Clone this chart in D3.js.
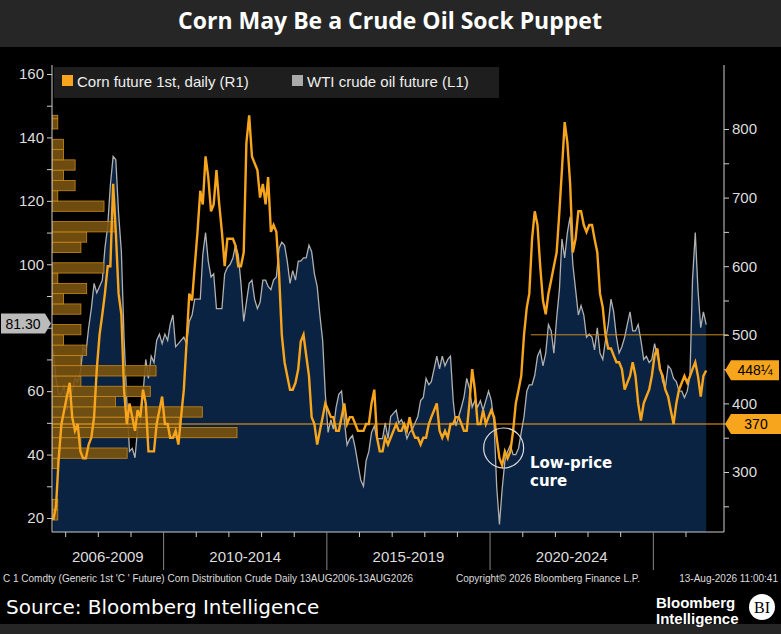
<!DOCTYPE html><html><head><meta charset="utf-8">
<script src="https://cdn.jsdelivr.net/npm/d3@7"></script>
<style>body{margin:0;background:#000}svg{display:block;font-family:"Liberation Sans",Arial,sans-serif}</style></head><body>
<svg id="c" width="781" height="634"></svg>
<script>
const startYear = 2006, startMonth = 7; // Aug 2006, monthly data
const wti = [73,64,59,59,62,
54,59,60,64,63,66,74,72,80,86,94,91,
93,95,105,112,125,134,133,116,104,77,57,41,
42,39,48,50,59,70,64,71,69,76,78,75,
78,76,81,84,74,75,76,77,75,82,84,89,
89,89,103,110,101,96,97,86,86,86,97,99,
100,102,106,103,94,82,88,94,95,89,86,88,
95,95,93,92,95,96,105,107,106,101,94,98,
95,101,101,102,102,106,104,97,93,84,76,59,
47,51,48,55,59,60,51,43,45,46,42,37,
32,30,38,41,47,49,45,45,45,50,45,52,
53,54,50,51,49,45,47,48,50,52,57,58,
64,62,63,67,71,67,71,68,70,71,57,49,
52,55,58,64,61,55,57,55,57,54,57,60,
57,50,30,18,29,38,41,43,40,40,42,47,
52,60,62,62,65,71,73,68,72,81,79,72,
83,92,108,102,110,115,100,92,84,87,84,77,
78,77,73,80,72,70,76,81,89,85,77,72,
74,77,81,85,79,79,81,76,70,71,69,70,
75,71,68,63,61,68,67,64,63,60,60,58,
60,65,95,110,92,80,85,81];
const corn = [230,250,320,370,390,
410,430,380,360,370,330,320,320,340,350,380,450,
500,530,560,600,600,720,650,560,530,420,370,400,
380,360,390,380,420,400,330,330,330,370,390,410,
370,370,350,350,360,340,380,420,490,560,550,600,
650,710,690,760,730,680,690,740,690,650,600,640,
640,640,630,600,600,620,780,820,760,750,740,700,
720,690,730,650,660,650,590,500,460,440,420,420,
430,450,490,500,470,440,380,370,340,360,380,400,
390,380,380,360,360,380,400,370,380,380,370,360,
360,360,370,370,400,420,350,330,330,350,340,350,
360,370,360,360,370,360,380,360,350,350,340,350,
350,370,380,390,400,360,350,360,350,370,370,380,
380,370,360,360,400,450,420,370,370,390,370,380,
390,380,350,320,310,330,320,330,360,400,420,440,
500,540,560,640,680,660,600,550,530,560,580,600,
620,680,740,810,780,720,620,640,680,680,660,650,
660,660,640,620,560,540,500,480,480,470,460,460,
450,420,430,440,460,440,400,375,400,410,420,440,
470,480,450,440,420,410,390,370,400,420,430,440,
430,440,450,460,440,410,440,448];
const leftTicks = [20,40,60,100,120,140,160];
const rightTicks = [300,400,500,600,700,800];
const periods = [["2006-2009",2006.6,2010],["2010-2014",2010,2015],["2015-2019",2015,2020],["2020-2024",2020,2025]];
const dates = wti.map((d,i)=>new Date(startYear, startMonth+i, 15));

const svg = d3.select("#c");
const L=52, R=724, T=65, B=532, dataEnd=706;
svg.append("rect").attr("width",781).attr("height",47).attr("fill","#262626");
svg.append("text").attr("x",390).attr("y",23).attr("text-anchor","middle").attr("dominant-baseline","middle")
 .attr("fill","#fff").attr("font-size",23).attr("font-weight","bold").attr("font-family","'Open Sans',sans-serif").text("Corn May Be a Crude Oil Sock Puppet");
svg.append("rect").attr("y",624).attr("width",781).attr("height",10).attr("fill","#262626");

const x = d3.scaleTime().domain([new Date(2006,7,1),new Date(2026,7,13)]).range([L,dataEnd]);
const yL = d3.scaleLinear().domain([20,160]).range([518,74]);
const yR = d3.scaleLinear().domain([300,800]).range([472,129]);
const g = svg.append("g");
svg.append("clipPath").attr("id","pc").append("rect").attr("x",L).attr("y",T).attr("width",R-L).attr("height",B-T);
const pg = g.append("g").attr("clip-path","url(#pc)");
pg.append("path").datum(wti).attr("fill","#0b2342")
 .attr("d",d3.area().x((d,i)=>x(dates[i])).y0(B).y1(d=>yL(d)));
pg.append("path").datum(wti).attr("fill","none").attr("stroke","#b0b0b0").attr("stroke-width",1.3)
 .attr("d",d3.line().x((d,i)=>x(dates[i])).y(d=>yL(d)));
const bins = d3.bin().thresholds(d3.range(200,860,15))(corn);
const hw = d3.scaleLinear().domain([0,d3.max(bins,b=>b.length)]).range([0,185]);
pg.selectAll(".h").data(bins).join("rect").attr("x",L).attr("y",b=>yR(b.x1)).attr("height",b=>Math.max(0,yR(b.x0)-yR(b.x1)))
 .attr("width",b=>hw(b.length)).attr("fill","#7a5310").attr("fill-opacity",0.9).attr("stroke","#c98a1c").attr("stroke-width",0.8);
pg.append("path").datum(corn).attr("fill","none").attr("stroke","#f7a51c").attr("stroke-width",2.4)
 .attr("d",d3.line().x((d,i)=>x(dates[i])).y(d=>yR(d)));
g.append("line").attr("x1",L).attr("x2",R+4).attr("y1",yR(370)).attr("y2",yR(370)).attr("stroke","#f7a51c").attr("stroke-width",1.2);
g.append("line").attr("x1",x(new Date(2021,3,1))).attr("x2",R+4).attr("y1",yR(500)).attr("y2",yR(500)).attr("stroke","#c98a1c").attr("stroke-width",1);
g.append("circle").attr("cx",x(new Date(2020,5,1))).attr("cy",yR(335)).attr("r",20).attr("fill","none").attr("stroke","#ddd").attr("stroke-width",1.2);
g.append("text").attr("x",530).attr("y",468).attr("fill","#fff").attr("font-weight","bold").attr("font-size",15).attr("font-family","'DejaVu Sans',sans-serif").text("Low-price");
g.append("text").attr("x",530).attr("y",486).attr("fill","#fff").attr("font-weight","bold").attr("font-size",15).attr("font-family","'DejaVu Sans',sans-serif").text("cure");
const axc="#ccc";
const la = g.append("g").attr("transform",`translate(${L},0)`).call(d3.axisLeft(yL).tickValues(d3.range(20,161,10)).tickSize(5).tickFormat(d=>leftTicks.includes(d)?d:""));
la.select(".domain").attr("stroke",axc).attr("d",`M0,${T}V${B}`);
la.selectAll("line").attr("stroke",axc);
la.selectAll("text").attr("fill","#ddd").attr("font-size",15);
const ra = g.append("g").attr("transform",`translate(${R},0)`).call(d3.axisRight(yR).tickValues(d3.range(250,851,50)).tickSize(5).tickFormat(d=>rightTicks.includes(d)?d:""));
ra.select(".domain").attr("stroke",axc).attr("d",`M0,${T}V${B}`);
ra.selectAll("line").attr("stroke",axc);ra.selectAll("text").attr("fill","#ddd").attr("font-size",15);
ra.selectAll(".tick").filter(d=>d>800).remove();
g.append("line").attr("x1",L).attr("x2",R).attr("y1",B).attr("y2",B).attr("stroke",axc);
d3.range(2007,2027).forEach(yv=>{const xx=x(new Date(yv,0,1));
 const major=[2010,2015,2020,2025].includes(yv);
 g.append("line").attr("x1",xx).attr("x2",xx).attr("y1",B).attr("y2",B+(major?38:5)).attr("stroke",major?"#888":axc);});
periods.forEach(p=>{const xa=Math.max(L,x(new Date(p[1],0,1))), xb=x(new Date(p[2],0,1));
 g.append("text").attr("x",(xa+xb)/2).attr("y",562).attr("text-anchor","middle").attr("fill","#ddd").attr("font-size",15).text(p[0]);});
function flag(xp,y,txt,fill,tc,left,w){
 const path=left?`M${xp},${y} l-6,-10 h-${w} v20 h${w} z`:`M${xp},${y} l6,-10 h${w} v20 h-${w} z`;
 g.append("path").attr("d",path).attr("fill",fill);
 g.append("text").attr("x",left?xp-6-w/2:xp+6+w/2).attr("y",y+5).attr("text-anchor","middle").attr("fill",tc).attr("font-size",14).text(txt);}
flag(L-1,yL(81.3),"81.30","#bbb","#000",true,44);
flag(R+1,yR(448.25),"448¼","#f7a51c","#000",false,48);
flag(R+1,yR(370),"370","#f7a51c","#000",false,50);
const lg=g.append("g");
lg.append("rect").attr("x",54).attr("y",67).attr("width",445).attr("height",31).attr("fill","#1e1e1e");
lg.append("rect").attr("x",62).attr("y",75).attr("width",11).attr("height",11).attr("fill","#f7a51c");
lg.append("text").attr("x",77).attr("y",87).attr("fill","#eee").attr("font-size",15).text("Corn future 1st, daily (R1)");
lg.append("rect").attr("x",292).attr("y",75).attr("width",11).attr("height",11).attr("fill","#aaa");
lg.append("text").attr("x",307).attr("y",87).attr("fill","#eee").attr("font-size",15).text("WTI crude oil future (L1)");
svg.append("text").attr("x",3).attr("y",582).attr("fill","#ddd").attr("font-size",10).text("C 1 Comdty (Generic 1st 'C ' Future) Corn Distribution Crude Daily 13AUG2006-13AUG2026");
svg.append("text").attr("x",456).attr("y",582).attr("fill","#ddd").attr("font-size",10).text("Copyright© 2026 Bloomberg Finance L.P.");
svg.append("text").attr("x",778).attr("y",582).attr("text-anchor","end").attr("fill","#ddd").attr("font-size",10).text("13-Aug-2026 11:00:41");
svg.append("text").attr("x",6).attr("y",614).attr("fill","#fff").attr("font-size",20).attr("font-family","'DejaVu Sans',sans-serif").text("Source: Bloomberg Intelligence");
svg.append("text").attr("x",656).attr("y",608).attr("fill","#fff").attr("font-size",15).attr("font-weight","bold").text("Bloomberg");
svg.append("text").attr("x",656).attr("y",624).attr("fill","#fff").attr("font-size",15).attr("font-weight","bold").text("Intelligence");
svg.append("circle").attr("cx",762).attr("cy",607).attr("r",13).attr("fill","#fff");
svg.append("text").attr("x",762).attr("y",613).attr("text-anchor","middle").attr("fill","#000").attr("font-size",16).attr("font-family","'Liberation Serif',serif").text("BI");
</script></body></html>
